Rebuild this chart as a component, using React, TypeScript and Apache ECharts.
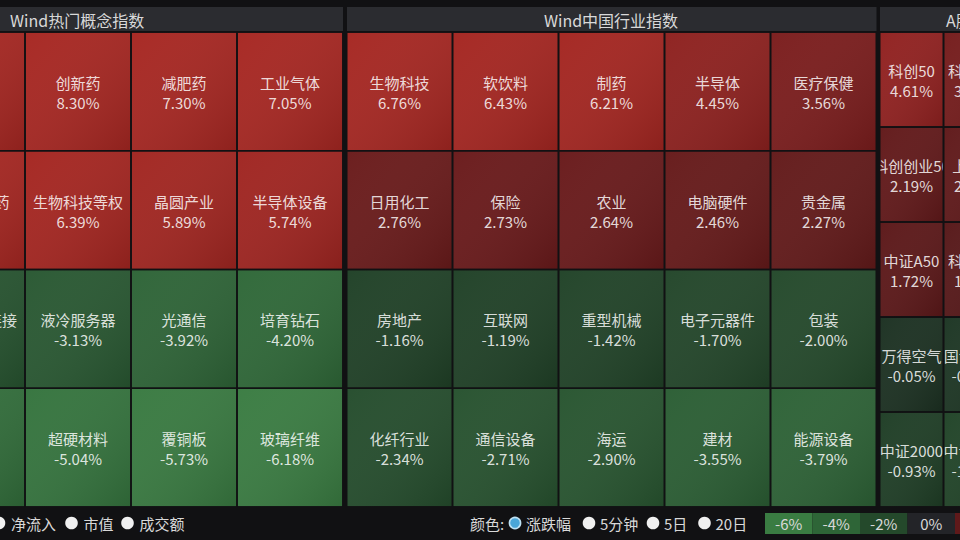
import React, { useEffect, useRef } from "react";
import * as echarts from "echarts";

// 热门概念指数 (row-major, 4 columns)
const conceptNames = [
  "CXO", "创新药", "减肥药", "工业气体",
  "化学原料药", "生物科技等权", "晶圆产业", "半导体设备",
  "铜缆高速连接", "液冷服务器", "光通信", "培育钻石",
  "PCB", "超硬材料", "覆铜板", "玻璃纤维",
];
const conceptChanges = [
  9.12, 8.3, 7.3, 7.05,
  6.95, 6.39, 5.89, 5.74,
  -2.85, -3.13, -3.92, -4.2,
  -4.63, -5.04, -5.73, -6.18,
];
const conceptColumns = 4;

// 中国行业指数 (row-major, 5 columns)
const industryNames = [
  "生物科技", "软饮料", "制药", "半导体", "医疗保健",
  "日用化工", "保险", "农业", "电脑硬件", "贵金属",
  "房地产", "互联网", "重型机械", "电子元器件", "包装",
  "化纤行业", "通信设备", "海运", "建材", "能源设备",
];
const industryChanges = [
  6.76, 6.43, 6.21, 4.45, 3.56,
  2.76, 2.73, 2.64, 2.46, 2.27,
  -1.16, -1.19, -1.42, -1.7, -2.0,
  -2.34, -2.71, -2.9, -3.55, -3.79,
];
const industryColumns = 5;

// A股指数 (row-major, 2 columns)
const indexNames = [
  "科创50", "科创100",
  "科创创业50", "上证50",
  "中证A50", "科创200",
  "万得空气", "国证2000",
  "中证2000", "中证A500",
];
const indexChanges = [
  4.61, 3.28,
  2.19, 2.08,
  1.72, 1.36,
  -0.05, -0.38,
  -0.93, -1.48,
];
const indexColumns = 2;

const groupTitles = ["Wind热门概念指数", "Wind中国行业指数", "A股指数"];
const sizeModes = ["净流入", "市值", "成交额"];
const colorModes = ["涨跌幅", "5分钟", "5日", "20日"];
const scaleTicks = [-6, -4, -2, 0, 2, 4, 6];

// colour ramps, one stop per 1% of move
const RED_STOPS = ["#4a1719", "#531718", "#5f191a", "#6e1b1b", "#861f1f", "#982320", "#a32621", "#a72722"];
const GREEN_STOPS = ["#1c3022", "#1f3f26", "#24492b", "#285631", "#2e6537", "#35743e", "#3a7c42"];
const NEUTRAL = "#232428";

const BG = "#111113";
const HEADER = "#2b2c30";
const TEXT = "#d9d9d9";
const FONT = '"Noto Sans CJK SC", "Noto Sans", sans-serif';

function hexToRgb(h: string) {
  const n = parseInt(h.slice(1), 16);
  return [(n >> 16) & 255, (n >> 8) & 255, n & 255];
}
function mix(a: string, b: string, t: number) {
  const x = hexToRgb(a);
  const y = hexToRgb(b);
  const c = x.map((v, i) => Math.round(v + (y[i] - v) * t));
  return `rgb(${c[0]},${c[1]},${c[2]})`;
}
function changeColor(v: number) {
  if (v === 0) return NEUTRAL;
  const stops = v > 0 ? RED_STOPS : GREEN_STOPS;
  const a = Math.min(Math.abs(v), stops.length - 1);
  const i = Math.min(Math.floor(a), stops.length - 2);
  return mix(stops[i], stops[i + 1], a - i);
}

function cells(names: string[], changes: number[], cols: number) {
  return names.map((name, i) => ({
    name,
    value: [i % cols, Math.floor(i / cols), changes[i]],
  }));
}

function makeRender(names: string[]) {
  return (params: any, api: any) => {
    const change = api.value(2) as number;
    const center = api.coord([api.value(0), api.value(1)]);
    const size = api.size([1, 1]);
    const inset = 0.8;
    const shape = {
      x: center[0] - size[0] / 2 + inset,
      y: center[1] - size[1] / 2 + inset,
      width: size[0] - inset * 2,
      height: size[1] - inset * 2,
    };
    return {
      type: "group",
      clipPath: { type: "rect", shape },
      children: [
        { type: "rect", shape, style: { fill: changeColor(change) } },
        {
          type: "rect",
          shape,
          style: {
            fill: new echarts.graphic.LinearGradient(0, 0, 1, 1, [
              { offset: 0, color: "rgba(255,255,255,0.02)" },
              { offset: 1, color: "rgba(0,0,0,0.15)" },
            ]),
          },
        },
        {
          type: "text",
          x: center[0],
          y: center[1] + 1,
          style: {
            text: `${names[params.dataIndex]}\n${change.toFixed(2)}%`,
            fill: "rgba(255,255,255,0.84)",
            fontSize: 15,
            fontFamily: FONT,
            align: "center",
            verticalAlign: "middle",
            lineHeight: 20,
          },
        },
      ],
    };
  };
}

function categoryAxes(count: number, gridIndex: number, inverse: boolean) {
  return {
    type: "category",
    gridIndex,
    inverse,
    data: Array.from({ length: count }, (_, i) => String(i)),
    show: false,
  };
}

export default function App() {
  const ref = useRef<HTMLDivElement>(null);

  useEffect(() => {
    if (!ref.current) return;
    const chart = echarts.init(ref.current, null, { renderer: "svg" });

    const top = 32;
    const height = 475;
    const groups = [
      { names: conceptNames, changes: conceptChanges, cols: conceptColumns, left: -81, width: 424 },
      { names: industryNames, changes: industryChanges, cols: industryColumns, left: 346.5, width: 530 },
      { names: indexNames, changes: indexChanges, cols: indexColumns, left: 879.5, width: 128 },
    ];

    const graphic: any[] = [];
    // header strip per group
    const headerSpans = [
      [0, 343],
      [347, 876.5],
      [880, 960],
    ];
    headerSpans.forEach(([a, b]) => {
      graphic.push({ type: "rect", shape: { x: a, y: 7, width: b - a, height: 24 }, style: { fill: HEADER } });
    });
    const titleAnchors = [
      { x: 10, align: "left" },
      { x: 611, align: "center" },
      { x: 946, align: "left" },
    ];
    groupTitles.forEach((t, i) => {
      graphic.push({
        type: "text",
        x: titleAnchors[i].x,
        y: 19.5,
        style: {
          text: t,
          fill: TEXT,
          fontSize: 16,
          fontFamily: FONT,
          align: titleAnchors[i].align,
          verticalAlign: "middle",
        },
      });
    });

    // footer: size modes
    const footerY = 523;
    const sizeDots = [-1, 71.5, 127.5];
    sizeModes.forEach((m, i) => {
      graphic.push({ type: "circle", shape: { cx: sizeDots[i], cy: footerY, r: 6.3 }, style: { fill: "#f0f0f0" } });
      graphic.push({
        type: "text",
        x: sizeDots[i] + 12,
        y: footerY,
        style: { text: m, fill: TEXT, fontSize: 15, fontFamily: FONT, verticalAlign: "middle" },
      });
    });

    // footer: colour modes
    graphic.push({
      type: "text",
      x: 470,
      y: footerY,
      style: { text: "颜色:", fill: TEXT, fontSize: 15, fontFamily: FONT, verticalAlign: "middle" },
    });
    const colorDots = [515, 589, 653, 704.5];
    colorModes.forEach((m, i) => {
      if (i === 0) {
        graphic.push({
          type: "circle",
          shape: { cx: colorDots[i], cy: footerY, r: 5.6 },
          style: { fill: "#4aa6d8", stroke: "#bfe2f4", lineWidth: 1.6 },
        });
      } else {
        graphic.push({ type: "circle", shape: { cx: colorDots[i], cy: footerY, r: 6.3 }, style: { fill: "#f0f0f0" } });
      }
      graphic.push({
        type: "text",
        x: colorDots[i] + 11,
        y: footerY,
        style: { text: m, fill: TEXT, fontSize: 15, fontFamily: FONT, verticalAlign: "middle" },
      });
    });

    // footer: colour scale
    const scaleLeft = 765;
    const boxW = 47.5;
    scaleTicks.forEach((t, i) => {
      const x = scaleLeft + i * boxW;
      graphic.push({
        type: "rect",
        shape: { x, y: 513, width: boxW, height: 21 },
        style: { fill: changeColor(t) },
      });
      graphic.push({
        type: "text",
        x: x + boxW / 2,
        y: 523.5,
        style: {
          text: `${t}%`,
          fill: TEXT,
          fontSize: 15,
          fontFamily: FONT,
          align: "center",
          verticalAlign: "middle",
        },
      });
    });

    chart.setOption({
      animation: false,
      backgroundColor: BG,
      grid: groups.map((g) => ({
        left: g.left,
        top,
        width: g.width,
        height,
        containLabel: false,
        outerBoundsMode: "none",
      })),
      xAxis: groups.map((g, i) => categoryAxes(g.cols, i, false)),
      yAxis: groups.map((g, i) => categoryAxes(Math.ceil(g.names.length / g.cols), i, true)),
      series: groups.map((g, i) => ({
        type: "custom",
        xAxisIndex: i,
        yAxisIndex: i,
        silent: true,
        clip: false,
        encode: { x: 0, y: 1 },
        data: cells(g.names, g.changes, g.cols),
        renderItem: makeRender(g.names),
      })),
      graphic,
    });

    return () => chart.dispose();
  }, []);

  return (
    <div
      ref={ref}
      style={{ position: "fixed", left: 0, top: 0, width: 960, height: 540 }}
    />
  );
}
